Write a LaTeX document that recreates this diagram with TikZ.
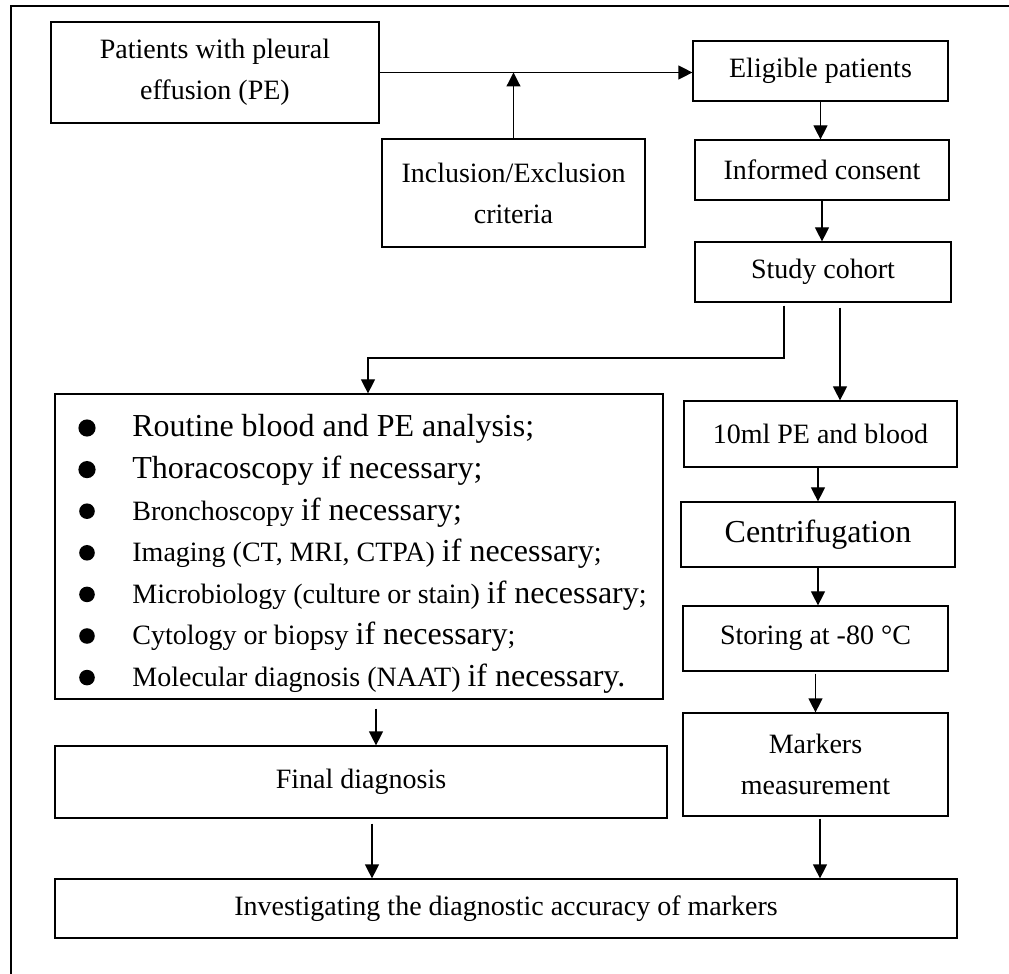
\documentclass[tikz,border=0pt]{standalone}
\usepackage{fontspec}
\setmainfont{Liberation Serif}
\usetikzlibrary{arrows.meta}
\newcommand{\lgtxt}{\fontsize{16}{19}\selectfont}

\begin{document}
\begin{tikzpicture}[
    x=0.5pt, y=-0.5pt,
    >={Triangle[length=7pt,width=7pt]},
    box/.style={draw, line width=0.6pt, align=center, inner sep=0pt,
                font=\fontsize{14}{20.5}\selectfont},
    arr/.style={->, line width=0.6pt}
  ]
  \useasboundingbox (0,0) rectangle (1009,974);
  % outer frame (only left and top edges show)
  \draw[line width=1pt] (11,974) -- (11,6) -- (1009,6);

  \node[box, minimum width=164pt, minimum height=50.5pt] (pat)
    at (215,72.5) {Patients with pleural\\effusion (PE)};
  \node[box, minimum width=131.5pt, minimum height=54pt] (incl)
    at (513.5,193) {Inclusion/Exclusion\\criteria};
  \node[box, minimum width=127.5pt, minimum height=30pt] (elig)
    at (820.5,71) {Eligible patients};
  \node[box, minimum width=127pt, minimum height=30pt] (inf)
    at (822,170) {Informed consent};
  \node[box, minimum width=128pt, minimum height=30pt] (study)
    at (823,272) {Study cohort};

  % left column
  \node[box, minimum width=304pt, minimum height=152.5pt] (list)
    at (359,546.5) {};
  \foreach \t [count=\i from 0] in {
      {{\lgtxt Routine blood and PE analysis;}},
      {{\lgtxt Thoracoscopy if necessary;}},
      {Bronchoscopy {\lgtxt if necessary;}},
      {Imaging (CT, MRI, CTPA) {\lgtxt if necessary};},
      {Microbiology (culture or stain) {\lgtxt if necessary};},
      {Cytology or biopsy {\lgtxt if necessary};},
      {Molecular diagnosis (NAAT) {\lgtxt if necessary.}}} {
    \node[anchor=base west, inner sep=0pt, font=\fontsize{14}{17}\selectfont]
      (item\i) at (132,{437+41.6*\i}) {\t};
  }
  \foreach \i in {0,1}
    \fill (87,{428+41.6*\i}) circle (4.3pt);
  \foreach \i in {2,...,6}
    \fill (87,{428+41.6*\i}) circle (3.9pt);

  \node[box, minimum width=306pt, minimum height=36pt] (final)
    at (361,782) {Final diagnosis};

  % right column
  \node[box, minimum width=136.5pt, minimum height=33pt] (ml)
    at (820.5,434) {10ml PE and blood};
  \node[box, minimum width=137pt, minimum height=32.5pt,
        font=\fontsize{16}{19}\selectfont] (cent)
    at (818,534.5) {Centrifugation};
  \node[box, minimum width=132.5pt, minimum height=32.5pt] (stor)
    at (815.5,638.5) {Storing at -80 °C};
  \node[box, minimum width=132.5pt, minimum height=51.5pt] (mark)
    at (815.5,764.5) {Markers\\measurement};

  \node[box, minimum width=451pt, minimum height=29.5pt] (invest)
    at (506,908.5) {Investigating the diagnostic accuracy of markers};

  % connectors
  \coordinate (kneeR) at (784,358);
  \coordinate (kneeL) at (368,358);
  \coordinate (splitR) at (840,0);
  \coordinate (xa) at (376,0);
  \coordinate (xb) at (372,0);
  \coordinate (xc) at (820,0);

  \draw[arr] (pat.east) -- (pat.east -| elig.west);
  \draw[arr] (incl.north) -- (incl.north |- pat.east);
  \draw[arr] (elig.south) -- (elig.south |- inf.north);
  \draw[arr] (inf.south) -- (inf.south |- study.north);
  \draw[arr, shorten <=1.5pt] (study.south -| kneeR) -- (kneeR) -- (kneeL)
    -- (kneeL |- list.north);
  \draw[arr, shorten <=2.5pt] (study.south -| splitR) -- (ml.north -| splitR);
  \draw[arr] (cent.north |- ml.south) -- (cent.north);
  \draw[arr] (cent.south) -- (cent.south |- stor.north);
  \draw[arr, shorten <=1pt] (stor.south) -- (mark.north);
  \draw[arr, shorten <=4.5pt] (list.south -| xa) -- (final.north -| xa);
  \draw[arr, shorten <=2.5pt] (final.south -| xb) -- (invest.north -| xb);
  \draw[arr, shorten <=1pt] (mark.south -| xc) -- (invest.north -| xc);
\end{tikzpicture}
\end{document}
